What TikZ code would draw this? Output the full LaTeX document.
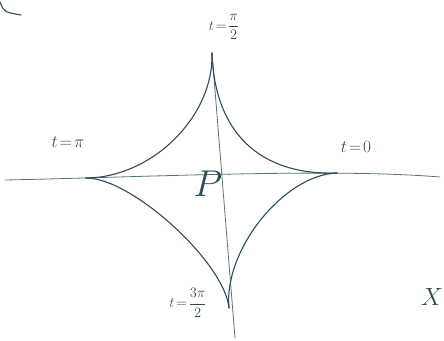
\documentclass[tikz,border=0pt]{standalone}
\usepackage{amsmath}
\usetikzlibrary{calc}
\definecolor{ink}{HTML}{2E4D58}
\begin{document}
\begin{tikzpicture}[x=1pt,y=-1pt,
  font=\LARGE,
  ln/.style={draw=ink,line width=1.1pt,line cap=round,line join=round},
  ax/.style={draw=ink!80,line width=0.8pt,line cap=round},
  lbl/.style={text=ink,inner sep=1pt}]
\useasboundingbox (0,0) rectangle (444,340);
% cusps and centre
\coordinate (o) at (216,177);
\coordinate (r) at (337,173);
\coordinate (u) at (212,53);
\coordinate (l) at (86,178);
\coordinate (d) at (229,308);
% axes
\coordinate (xa) at (5,180);
\coordinate (xb) at (440,177);
\coordinate (yb) at (235,338);
\draw[ax] (xa) .. controls (150,177) and (330,168) .. (xb);
\draw[ax] (u) -- (yb);
% astroid, one arc per quadrant (k = how far the controls sit from o)
\foreach \a/\b/\k in {r/u/0.36,u/l/0.49,l/d/0.65,d/r/0.56}
  \draw[ln] (\a) .. controls ($(o)!\k!(\a)$) and ($(o)!\k!(\b)$) .. (\b);
% labels
\node[lbl] (t0) at (356,147) {$t\!=\!0$};
\node[lbl,font=\Large] (t1) at (224,27) {$t\!=\!\dfrac{\pi}{2}$};
\node[lbl] (t2) at (68,142) {$t\!=\!\pi$};
\node[lbl,font=\Large] (t3) at (188,303) {$t\!=\!\dfrac{3\pi}{2}$};
\node[lbl,font=\Huge,scale=1.5] (p) at (208,184) {$P$};
\node[lbl,font=\Huge] (x) at (432,297) {$X$};
% stray stroke in the corner
\coordinate (ca) at (0,2);
\coordinate (cb) at (21,15);
\draw[ln] (ca) .. controls (4,12) .. (cb);
\end{tikzpicture}
\end{document}
